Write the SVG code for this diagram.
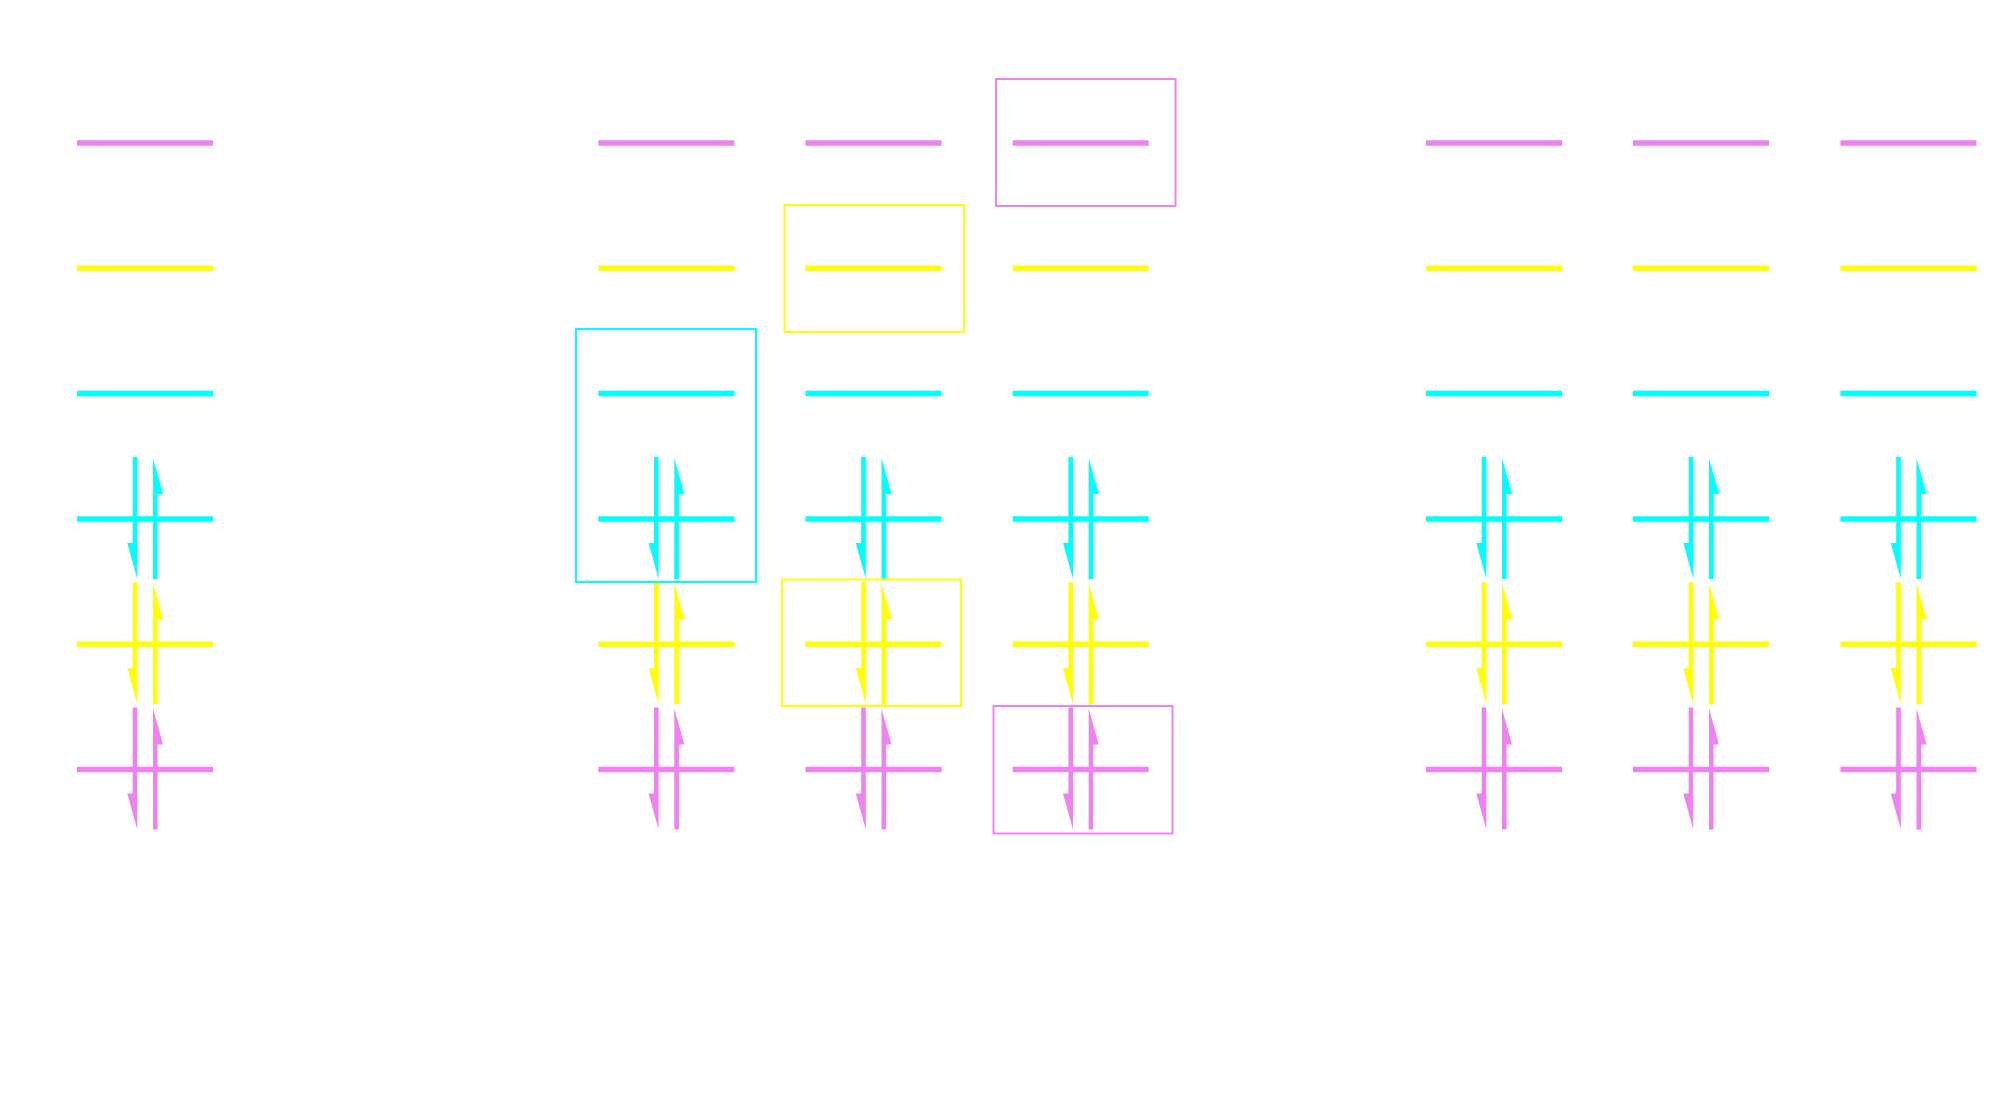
<svg xmlns="http://www.w3.org/2000/svg" xmlns:xlink="http://www.w3.org/1999/xlink" width="2000" height="1119" viewBox="0 0 2000 1119">
<style>
.lv{stroke-width:5.5;fill:none}
.m{stroke:#EE82EE;fill:#EE82EE}
.y{stroke:#FFFF00;fill:#FFFF00}
.c{stroke:#00FFFF;fill:#00FFFF}
.box{fill:none;stroke-width:2}
.bm{stroke:#EE82EE}
.by{stroke:#FFFF00}
.bc{stroke:#00FFFF}
.pr{stroke:none}
</style>
<defs>
<path id="lvl" d="M0,0 H136"/>
<g id="pair">
<polygon points="-12.3,-62 -7.7,-62 -7.7,60 -17.7,24 -12.3,24"/>
<polygon points="12.6,60 8,60 8,-61 18,-25 12.6,-25"/>
</g>
</defs>
<rect width="2000" height="1119" fill="#ffffff"/>
<g id="levels">
<g id="col1">
<use href="#lvl" class="lv m" x="77" y="143"/>
<use href="#lvl" class="lv y" x="77" y="268.3"/>
<use href="#lvl" class="lv c" x="77" y="393.6"/>
<use href="#lvl" class="lv c" x="77" y="518.9"/>
<use href="#lvl" class="lv y" x="77" y="644.2"/>
<use href="#lvl" class="lv m" x="77" y="769.5"/>
<use href="#pair" class="pr c" x="145" y="518.9"/>
<use href="#pair" class="pr y" x="145" y="644.2"/>
<use href="#pair" class="pr m" x="145" y="769.5"/>
</g>
<g id="col2">
<use href="#lvl" class="lv m" x="598.3" y="143"/>
<use href="#lvl" class="lv y" x="598.3" y="268.3"/>
<use href="#lvl" class="lv c" x="598.3" y="393.6"/>
<use href="#lvl" class="lv c" x="598.3" y="518.9"/>
<use href="#lvl" class="lv y" x="598.3" y="644.2"/>
<use href="#lvl" class="lv m" x="598.3" y="769.5"/>
<use href="#pair" class="pr c" x="666.3" y="518.9"/>
<use href="#pair" class="pr y" x="666.3" y="644.2"/>
<use href="#pair" class="pr m" x="666.3" y="769.5"/>
</g>
<g id="col3">
<use href="#lvl" class="lv m" x="805.5" y="143"/>
<use href="#lvl" class="lv y" x="805.5" y="268.3"/>
<use href="#lvl" class="lv c" x="805.5" y="393.6"/>
<use href="#lvl" class="lv c" x="805.5" y="518.9"/>
<use href="#lvl" class="lv y" x="805.5" y="644.2"/>
<use href="#lvl" class="lv m" x="805.5" y="769.5"/>
<use href="#pair" class="pr c" x="873.5" y="518.9"/>
<use href="#pair" class="pr y" x="873.5" y="644.2"/>
<use href="#pair" class="pr m" x="873.5" y="769.5"/>
</g>
<g id="col4">
<use href="#lvl" class="lv m" x="1012.7" y="143"/>
<use href="#lvl" class="lv y" x="1012.7" y="268.3"/>
<use href="#lvl" class="lv c" x="1012.7" y="393.6"/>
<use href="#lvl" class="lv c" x="1012.7" y="518.9"/>
<use href="#lvl" class="lv y" x="1012.7" y="644.2"/>
<use href="#lvl" class="lv m" x="1012.7" y="769.5"/>
<use href="#pair" class="pr c" x="1080.7" y="518.9"/>
<use href="#pair" class="pr y" x="1080.7" y="644.2"/>
<use href="#pair" class="pr m" x="1080.7" y="769.5"/>
</g>
<g id="col5">
<use href="#lvl" class="lv m" x="1426" y="143"/>
<use href="#lvl" class="lv y" x="1426" y="268.3"/>
<use href="#lvl" class="lv c" x="1426" y="393.6"/>
<use href="#lvl" class="lv c" x="1426" y="518.9"/>
<use href="#lvl" class="lv y" x="1426" y="644.2"/>
<use href="#lvl" class="lv m" x="1426" y="769.5"/>
<use href="#pair" class="pr c" x="1494" y="518.9"/>
<use href="#pair" class="pr y" x="1494" y="644.2"/>
<use href="#pair" class="pr m" x="1494" y="769.5"/>
</g>
<g id="col6">
<use href="#lvl" class="lv m" x="1633" y="143"/>
<use href="#lvl" class="lv y" x="1633" y="268.3"/>
<use href="#lvl" class="lv c" x="1633" y="393.6"/>
<use href="#lvl" class="lv c" x="1633" y="518.9"/>
<use href="#lvl" class="lv y" x="1633" y="644.2"/>
<use href="#lvl" class="lv m" x="1633" y="769.5"/>
<use href="#pair" class="pr c" x="1701" y="518.9"/>
<use href="#pair" class="pr y" x="1701" y="644.2"/>
<use href="#pair" class="pr m" x="1701" y="769.5"/>
</g>
<g id="col7">
<use href="#lvl" class="lv m" x="1840.5" y="143"/>
<use href="#lvl" class="lv y" x="1840.5" y="268.3"/>
<use href="#lvl" class="lv c" x="1840.5" y="393.6"/>
<use href="#lvl" class="lv c" x="1840.5" y="518.9"/>
<use href="#lvl" class="lv y" x="1840.5" y="644.2"/>
<use href="#lvl" class="lv m" x="1840.5" y="769.5"/>
<use href="#pair" class="pr c" x="1908.5" y="518.9"/>
<use href="#pair" class="pr y" x="1908.5" y="644.2"/>
<use href="#pair" class="pr m" x="1908.5" y="769.5"/>
</g>
</g>
<g id="boxes">
<g id="box-cyan"><rect class="box bc" x="576" y="329" width="180" height="253"/></g>
<g id="box-yellow-top"><rect class="box by" x="784.5" y="205" width="179.5" height="127"/></g>
<g id="box-yellow-bottom"><rect class="box by" x="782" y="579.5" width="179" height="126.5"/></g>
<g id="box-magenta-top"><rect class="box bm" x="996" y="79" width="179.5" height="127"/></g>
<g id="box-magenta-bottom"><rect class="box bm" x="993.5" y="706" width="179" height="127.5"/></g>
</g>
<g id="connectors"/>
</svg>
